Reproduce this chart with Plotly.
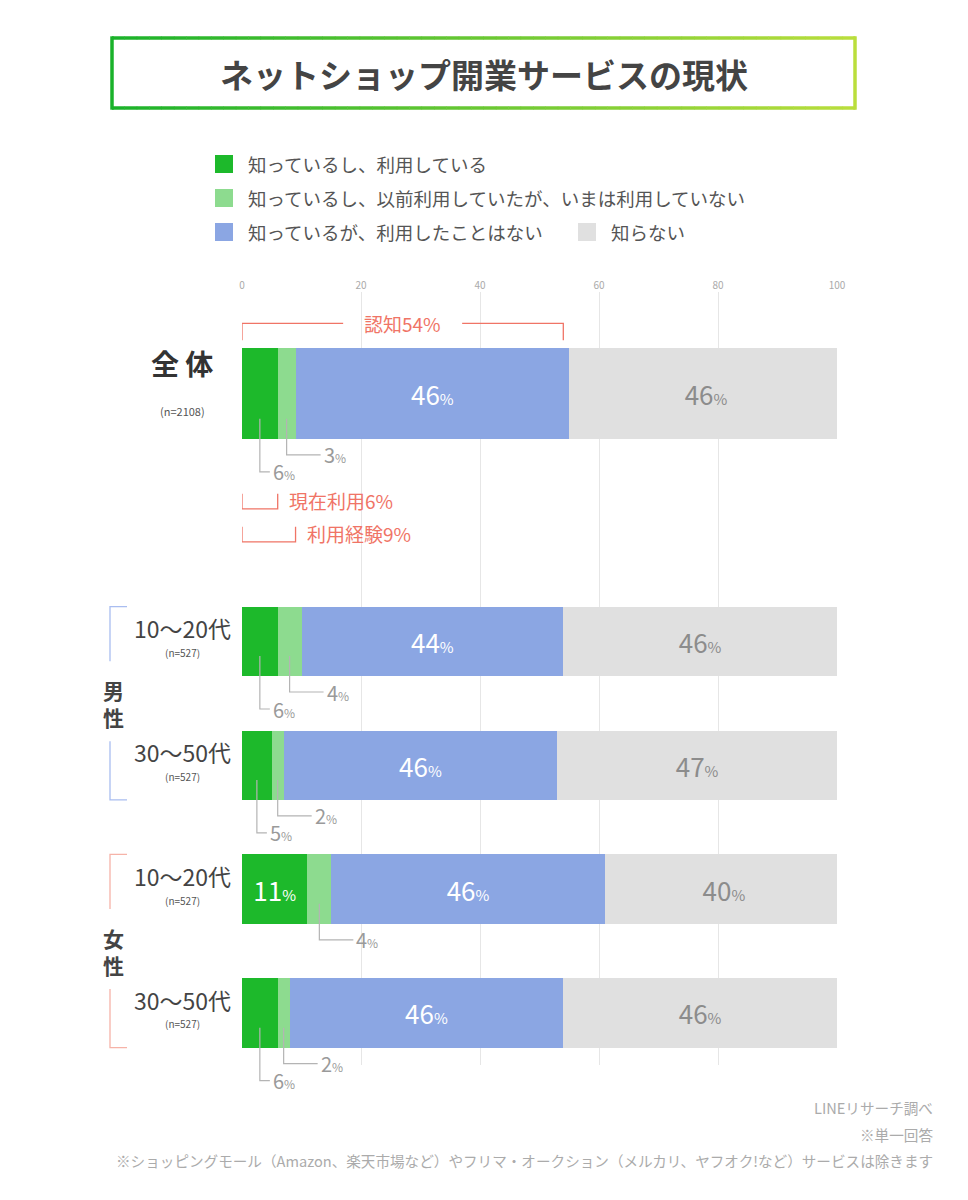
import plotly.graph_objects as go

# ---- data ----
row_labels = ["全 体", "10〜20代", "30〜50代", "10〜20代", "30〜50代"]
row_n = ["(n=2108)", "(n=527)", "(n=527)", "(n=527)", "(n=527)"]
group_labels = ["男<br>性", "女<br>性"]
using_now = [6, 6, 5, 11, 6]
used_before = [3, 4, 2, 4, 2]
never_used = [46, 44, 46, 46, 46]
unaware = [46, 46, 47, 40, 46]
series_names = [
    "知っているし、利用している",
    "知っているし、以前利用していたが、いまは利用していない",
    "知っているが、利用したことはない",
    "知らない",
]
summary_names = ["認知", "現在利用", "利用経験"]
summary_values = [54, 6, 9]
x_ticks = [0, 20, 40, 60, 80, 100]
title_text = "ネットショップ開業サービスの現状"
notes = [
    "LINEリサーチ調べ",
    "※単一回答",
    "※ショッピングモール（Amazon、楽天市場など）やフリマ・オークション（メルカリ、ヤフオク!など）サービスは除きます",
]

# ---- layout helpers (positions in page pixels; page has an 8px body margin) ----
W, H = 968, 1200
OFF = 8
PX0, PX1, PY0, PY1 = 242, 837, 292, 1065
PW, PH = PX1 - PX0, PY1 - PY0
L, T = PX0 - OFF, PY0 - OFF
R, B = W - L - PW, H - T - PH
row_pos = [0, 2, 3, 4, 5]
row_width = [0.73, 0.56, 0.56, 0.56, 0.56]
Y_TOP, Y_BOT = -0.82, 5.42
PXU = PH / (Y_BOT - Y_TOP)
XU = PW / 100.0

FONT = "Noto Sans CJK JP"
C_NOW, C_BEFORE, C_NEVER, C_UNAWARE = "#1db92b", "#8ddb8f", "#8ba6e3", "#e0e0e0"
RED = "#f07466"
LEAD = "#b4b4b4"


def px_x(px):
    return (px - PX0) / PW


def px_y(py):
    return 1 - (py - PY0) / PH


def row_px(i):
    return PY0 + (row_pos[i] - Y_TOP) * PXU


def row_y(i, dpx=0):
    return px_y(row_px(i) + dpx)


def half(i):
    return row_width[i] * PXU / 2


def pct(v, big, small):
    return f"<span style='font-size:{big}px'>{v}</span><span style='font-size:{small}px'>%</span>"


def note(x, y, text, size, color, xref="paper", xanchor="center", bg=None):
    a = dict(x=x, y=y, xref=xref, yref="paper", xanchor=xanchor, yanchor="middle",
             showarrow=False, text=text, font=dict(family=FONT, size=size, color=color))
    if bg:
        a["bgcolor"] = bg
    return a


fig = go.Figure()

bar_specs = [
    (using_now, C_NOW, [pct(v, 26, 15) if v >= 10 else "" for v in using_now], "white"),
    (used_before, C_BEFORE, ["" for v in used_before], "white"),
    (never_used, C_NEVER, [pct(v, 26, 15) for v in never_used], "white"),
    (unaware, C_UNAWARE, [pct(v, 26, 15) for v in unaware], "#8c8c8c"),
]
for (vals, col, txt, tcol), name in zip(bar_specs, series_names):
    fig.add_trace(go.Bar(
        y=row_pos, x=vals, width=row_width, orientation="h", name=name,
        marker=dict(color=col, line=dict(width=0)),
        text=txt, textposition="inside", insidetextanchor="middle",
        textangle=0, constraintext="none",
        textfont=dict(family=FONT, size=26, color=tcol),
        hoverinfo="skip",
    ))

shapes = []
annotations = []

# leader lines for small segments
for i in range(len(row_pos)):
    hb = half(i)
    if using_now[i] < 10:
        xm = using_now[i] / 2
        y0, y1 = row_y(i, hb - 20), row_y(i, hb + 33)
        shapes.append(dict(type="path", xref="x", yref="paper",
                           path=f"M {xm} {y0} L {xm} {y1} L {xm + 10 / XU} {y1}",
                           line=dict(color=LEAD, width=1.2)))
        annotations.append(note(xm + 11 / XU, y1, pct(using_now[i], 20, 12), 20, "#9a9a9a",
                                xref="x", xanchor="left"))
    xm = using_now[i] + used_before[i] / 2
    y0, y1 = row_y(i, hb - 20), row_y(i, hb + 16)
    shapes.append(dict(type="path", xref="x", yref="paper",
                       path=f"M {xm} {y0} L {xm} {y1} L {xm + 34 / XU} {y1}",
                       line=dict(color=LEAD, width=1.2)))
    annotations.append(note(xm + 35 / XU, y1, pct(used_before[i], 20, 12), 20, "#9a9a9a",
                            xref="x", xanchor="left"))

# summary brackets on the total row
hb = half(0)
v = summary_values[0]
yl, yt = row_y(0, -hb - 25), row_y(0, -hb - 8)
gap = 10
shapes.append(dict(type="path", xref="x", yref="paper",
                   path=f"M 0 {yt} L 0 {yl} L {v / 2 - gap} {yl}",
                   line=dict(color=RED, width=1.3)))
shapes.append(dict(type="path", xref="x", yref="paper",
                   path=f"M {v / 2 + gap} {yl} L {v} {yl} L {v} {yt}",
                   line=dict(color=RED, width=1.3)))
annotations.append(note(v / 2, yl, f"{summary_names[0]}{v}%", 19, RED, xref="x", bg="white"))
for k, dy in [(1, 70), (2, 103)]:
    v = summary_values[k]
    yb, yt = row_y(0, hb + dy), row_y(0, hb + dy - 15)
    shapes.append(dict(type="path", xref="x", yref="paper",
                       path=f"M 0 {yt} L 0 {yb} L {v} {yb} L {v} {yt}",
                       line=dict(color=RED, width=1.3)))
    annotations.append(note(v + 9 / XU, row_y(0, hb + dy - 8), f"{summary_names[k]}{v}%", 19, RED,
                            xref="x", xanchor="left"))

# row labels
lx = px_x(182)
annotations.append(note(lx, row_y(0, -31), f"<b>{row_labels[0]}</b>", 28, "#333"))
annotations.append(note(lx, row_y(0, 17), row_n[0], 11, "#555"))
for i in range(1, len(row_pos)):
    annotations.append(note(lx, row_y(i, -13), row_labels[i], 23, "#444"))
    annotations.append(note(lx, row_y(i, 11), row_n[i], 10, "#555"))

# gender group brackets
for g, (a, b, col) in enumerate([(1, 2, "#a9bdf0"), (3, 4, "#f6b3a8")]):
    top = row_px(a) - half(a)
    bot = row_px(b) + half(b)
    mid = (row_px(a) + row_px(b)) / 2
    x0, x1 = px_x(110), px_x(127)
    shapes.append(dict(type="path", xref="paper", yref="paper",
                       path=f"M {x1} {px_y(top)} L {x0} {px_y(top)} L {x0} {px_y(mid - 42)}",
                       line=dict(color=col, width=1.3)))
    shapes.append(dict(type="path", xref="paper", yref="paper",
                       path=f"M {x0} {px_y(mid + 38)} L {x0} {px_y(bot)} L {x1} {px_y(bot)}",
                       line=dict(color=col, width=1.3)))
    annotations.append(note(px_x(113), px_y(mid), f"<b>{group_labels[g]}</b>", 21, "#444"))

# title box with green -> yellow-green border
c0, c1 = (26, 178, 42), (186, 222, 60)
bx0, bx1, by0, by1 = 112, 855, 38, 108
n_seg = 60


def lerp_col(t):
    return "rgb({},{},{})".format(*[round(a + (b - a) * t) for a, b in zip(c0, c1)])


for s in range(n_seg):
    xa = bx0 + (bx1 - bx0) * s / n_seg
    xb = bx0 + (bx1 - bx0) * (s + 1) / n_seg + 0.5
    col = lerp_col((s + 0.5) / n_seg)
    for yy in (by0, by1):
        shapes.append(dict(type="line", xref="paper", yref="paper",
                           x0=px_x(xa), x1=px_x(xb), y0=px_y(yy), y1=px_y(yy),
                           line=dict(color=col, width=3.5)))
for xx, t in ((bx0, 0), (bx1, 1)):
    shapes.append(dict(type="line", xref="paper", yref="paper",
                       x0=px_x(xx), x1=px_x(xx), y0=px_y(by0 - 1.7), y1=px_y(by1 + 1.7),
                       line=dict(color=lerp_col(t), width=3.5)))
annotations.append(note(px_x((bx0 + bx1) / 2), px_y(74), f"<b>{title_text}</b>", 33, "#444"))

# legend
legend_pos = [(215, 164), (215, 198), (215, 232), (578, 232)]
for (lx0, ly), col, name in zip(legend_pos, [C_NOW, C_BEFORE, C_NEVER, C_UNAWARE], series_names):
    shapes.append(dict(type="rect", xref="paper", yref="paper",
                       x0=px_x(lx0), x1=px_x(lx0 + 18), y0=px_y(ly - 9), y1=px_y(ly + 9),
                       fillcolor=col, line=dict(width=0)))
    annotations.append(note(px_x(lx0 + 31), px_y(ly), name, 18.5, "#555", xanchor="left"))

# footnotes
for txt, ny in zip(notes, [1107, 1134, 1160]):
    annotations.append(note(px_x(935), px_y(ny), txt, 14.6, "#ababab", xanchor="right"))

fig.update_layout(
    width=W, height=H,
    margin=dict(l=L, r=R, t=T, b=B),
    barmode="stack",
    showlegend=False,
    plot_bgcolor="white", paper_bgcolor="white",
    font=dict(family=FONT),
    hovermode=False,
    shapes=shapes,
    annotations=annotations,
    xaxis=dict(range=[0, 100], side="top", tickvals=x_ticks, ticks="",
               tickfont=dict(size=10, color="#aaaaaa"), showgrid=True,
               gridcolor="#e6e6e6", gridwidth=1, zeroline=False, showline=False,
               fixedrange=True),
    yaxis=dict(range=[Y_BOT, Y_TOP], visible=False, fixedrange=True),
)

fig.write_html("out.html")
